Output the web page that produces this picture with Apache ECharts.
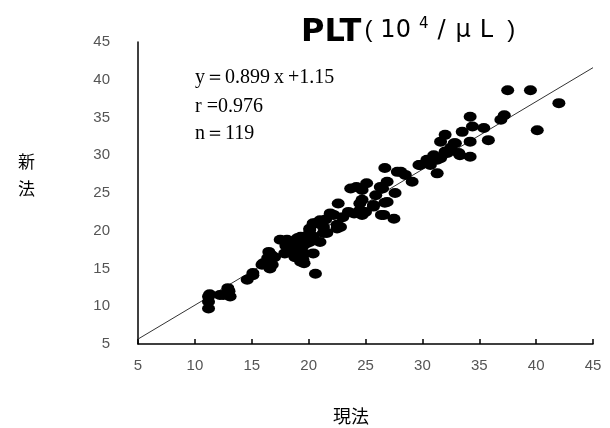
<!DOCTYPE html>
<html>
<head>
<meta charset="utf-8">
<script src="https://cdn.jsdelivr.net/npm/echarts@6/dist/echarts.min.js"></script>
<style>
html,body{margin:0;padding:0;background:#fff;}
#c{width:610px;height:428px;}
</style>
</head>
<body>
<div id="c"></div>
<script>
// 現法 (x) values
var xValues = [
  11.2,11.2,11.2,11.3,12.2,12.9,13.1,12.5,13.0,14.6,
  15.1,15.1,15.9,16.0,16.6,16.8,16.4,16.5,16.7,17.5,
  17.9,18.1,18.4,18.4,18.7,19.0,19.0,19.3,19.3,19.3,
  19.5,19.6,19.6,19.8,20.1,20.1,20.1,20.4,20.4,20.4,
  20.6,20.6,21.0,21.0,21.3,21.3,21.6,21.9,22.2,22.5,
  22.5,22.8,22.6,23.7,24.0,24.2,24.5,24.5,24.7,24.7,
  24.7,25.1,25.7,25.7,25.9,26.3,26.4,26.5,26.6,26.7,
  26.7,26.9,26.9,27.5,27.6,27.8,28.1,28.5,29.1,29.7,
  29.8,30.4,30.6,30.7,31.3,31.3,31.6,31.6,32.0,32.0,
  32.2,32.8,32.9,33.2,33.3,33.5,34.2,34.2,34.2,34.4,
  35.4,35.8,36.9,37.2,37.5,39.5,40.1,42.0,17.0,18.0,
  18.8,19.5,20.0,21.5,23.0,23.5,25.0,31.0,32.5
];
// 新法 (y) values
var yValues = [
  9.7,10.6,11.3,11.6,11.5,12.4,11.3,11.5,12.0,13.5,
  14.1,14.4,15.5,15.7,15.0,15.5,16.4,17.2,16.8,18.8,
  17.0,18.8,17.2,18.4,17.9,19.0,17.5,19.2,16.8,15.9,
  16.2,15.7,17.0,18.3,18.5,20.1,20.3,19.2,17.0,21.0,
  21.0,14.3,18.5,21.4,19.7,20.5,19.7,22.3,22.1,20.8,
  20.3,20.5,23.6,25.6,22.3,25.8,23.6,22.7,24.1,22.1,
  25.4,26.3,23.4,23.2,24.7,25.8,22.1,25.6,22.1,23.7,
  28.3,26.5,23.8,21.6,25.0,27.8,27.8,27.4,26.5,28.7,
  28.7,29.4,29.1,28.7,27.6,29.4,29.6,31.8,32.7,30.5,
  30.3,31.6,31.6,30.3,30.0,33.1,35.1,31.8,29.8,33.8,
  33.6,32.0,34.7,35.3,38.6,38.6,33.3,36.9,16.5,18.0,
  16.5,18.0,19.5,21.5,21.8,22.5,22.5,30.0,31.0
];
// regression line y = 0.899x + 1.15, end points
var lineX = [5, 45];
var lineY = [5.65, 41.6];
var axisTicks = [5, 10, 15, 20, 25, 30, 35, 40, 45];
var annotations = ['y\uFF1D0.899\u2009x\u2009+1.15', 'r =0.976', 'n\uFF1D119'];

var points = xValues.map(function (x, i) { return [x, yValues[i]]; });
var linePts = lineX.map(function (x, i) { return [x, lineY[i]]; });

var chart = echarts.init(document.getElementById('c'), null, {renderer: 'canvas'});
var labelStyle = {color: '#555', fontSize: 15, fontFamily: 'Liberation Sans, Arial, sans-serif'};
function seg(size, padL, padR, extra) {
  var s = {fontFamily: 'DejaVu Sans', fontWeight: 'normal', fontSize: size, color: '#000', padding: [0, padR, 5, padL]};
  if (extra) { for (var k in extra) s[k] = extra[k]; }
  return s;
}
chart.setOption({
  animation: false,
  backgroundColor: '#fff',
  title: {
    text: '{a|PLT}{p|(}{b|10}{c|4}{s|/}{m|\u03BC}{l|L}{q|)}',
    left: 296,
    top: 12,
    textStyle: {
      rich: {
        a: {fontFamily: 'DejaVu Sans', fontWeight: 'bold', fontSize: 32, color: '#000'},
        p: seg(24, 3, 8, {fontFamily: 'Liberation Sans'}),
        b: seg(24, 0, 6),
        c: seg(15, 2, 9, {verticalAlign: 'top', padding: [0, 9, 16, 2]}),
        s: seg(24, 0, 10),
        m: seg(24, 0, 9),
        l: seg(24, 0, 14),
        q: seg(24, 0, 0, {fontFamily: 'Liberation Sans'})
      }
    }
  },
  grid: {left: 138, right: 17, top: 42, bottom: 84, containLabel: false},
  xAxis: {
    type: 'value', min: axisTicks[0], max: axisTicks[axisTicks.length - 1], interval: 5,
    axisLine: {lineStyle: {color: '#000', width: 1.5}},
    axisTick: {inside: true, length: 5, lineStyle: {color: '#000', width: 1.5}},
    axisLabel: Object.assign({margin: 14}, labelStyle),
    splitLine: {show: false}
  },
  yAxis: {
    type: 'value', min: axisTicks[0], max: axisTicks[axisTicks.length - 1], interval: 5,
    axisLine: {show: true, lineStyle: {color: '#000', width: 1.5}},
    axisTick: {show: false},
    axisLabel: Object.assign({margin: 28}, labelStyle),
    splitLine: {show: false}
  },
  series: [
    {
      type: 'line', data: linePts, symbol: 'none', z: 1,
      lineStyle: {color: '#333', width: 1}
    },
    {
      type: 'scatter', data: points, symbol: 'circle', symbolSize: [13, 10], z: 2,
      itemStyle: {color: '#000', opacity: 1}
    }
  ],
  graphic: [
    {type: 'text', left: 195, top: 68, style: {text: annotations[0], font: '20px "Liberation Serif", serif', fill: '#000'}},
    {type: 'text', left: 195, top: 97, style: {text: annotations[1], font: '20px "Liberation Serif", serif', fill: '#000'}},
    {type: 'text', left: 195, top: 124, style: {text: annotations[2], font: '20px "Liberation Serif", serif', fill: '#000'}},
    {type: 'text', left: 18, top: 148, style: {text: '新\n法', font: '17px "Noto Sans CJK JP"', lineHeight: 27, fill: '#000'}},
    {type: 'text', left: 333, top: 407, style: {text: '現法', font: '18px "Noto Sans CJK JP"', fill: '#000'}}
  ]
});
</script>
</body>
</html>
